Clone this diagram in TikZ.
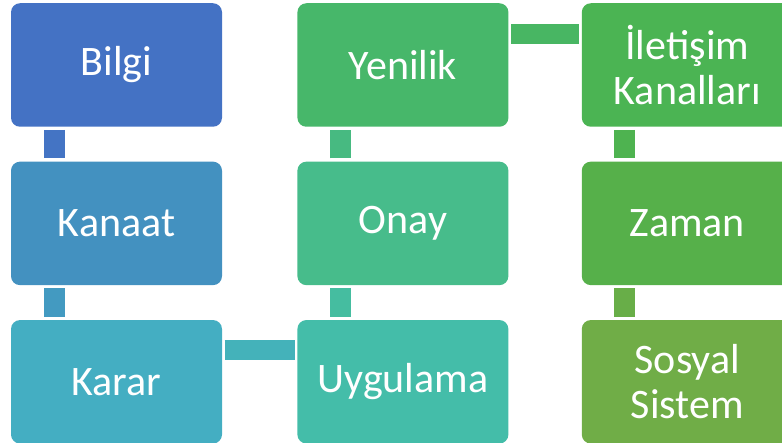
\documentclass[tikz,border=0pt]{standalone}
\usepackage{fontspec}
\setmainfont{Carlito}
\usetikzlibrary{positioning}
\definecolor{bilgiCol}{HTML}{4472C4}
\definecolor{kanaatCol}{HTML}{4391C0}
\definecolor{kararCol}{HTML}{44AEC2}
\definecolor{uygulamaCol}{HTML}{44BDA9}
\definecolor{onayCol}{HTML}{47BC8B}
\definecolor{yenilikCol}{HTML}{47B76A}
\definecolor{iletisimCol}{HTML}{4BB453}
\definecolor{zamanCol}{HTML}{56B04A}
\definecolor{sosyalCol}{HTML}{70AD47}

\begin{document}
\begin{tikzpicture}[x=1pt, y=1pt,
  kutu/.style={rounded corners=9pt, minimum width=211pt, minimum height=123.5pt,
    inner sep=0pt, align=center, text=white, font=\fontsize{42}{45}\selectfont},
  dikbag/.style={line width=21pt, shorten <=3pt, shorten >=3pt},
  yanbag/.style={line width=20pt, shorten <=2.5pt, shorten >=2.5pt}]
  \useasboundingbox (0,0) rectangle (782,-443);

  \node[kutu, fill=bilgiCol] (bilgi) at (116.5,-65) {Bilgi};
  \node[kutu, fill=kanaatCol, below=34.5pt of bilgi] (kanaat) {Kanaat};
  \node[kutu, fill=kararCol, below=34.5pt of kanaat] (karar) {Karar};
  \node[kutu, fill=uygulamaCol, right=75pt of karar] (uygulama) {Uygulama};
  \node[kutu, fill=onayCol, above=34.5pt of uygulama] (onay) {Onay};
  \node[kutu, fill=yenilikCol, above=34.5pt of onay] (yenilik) {Yenilik};
  \node[kutu, fill=iletisimCol, right=73pt of yenilik] (iletisim) {İletişim\\Kanalları};
  \node[kutu, fill=zamanCol, below=34.5pt of iletisim] (zaman) {Zaman};
  \node[kutu, fill=sosyalCol, below=34.5pt of zaman] (sosyal) {Sosyal\\Sistem};

  % baglantilar
  \draw[dikbag, color=bilgiCol!92!kanaatCol] ([xshift=43.5pt]bilgi.south west) -- ([xshift=43.5pt]kanaat.north west);
  \draw[dikbag, color=kanaatCol!70!kararCol] ([xshift=43.5pt]kanaat.south west) -- ([xshift=43.5pt]karar.north west);
  \draw[yanbag, color=kararCol!70!uygulamaCol] ([yshift=-30.5pt]karar.north east) -- ([yshift=-30.5pt]uygulama.north west);
  \draw[dikbag, color=uygulamaCol!70!onayCol] ([xshift=43.5pt]uygulama.north west) -- ([xshift=43.5pt]onay.south west);
  \draw[dikbag, color=onayCol!70!yenilikCol] ([xshift=43.5pt]onay.north west) -- ([xshift=43.5pt]yenilik.south west);
  \draw[yanbag, color=yenilikCol!70!iletisimCol] ([yshift=-30.5pt]yenilik.north east) -- ([yshift=-30.5pt]iletisim.north west);
  \draw[dikbag, color=iletisimCol!70!zamanCol] ([xshift=42.5pt]iletisim.south west) -- ([xshift=42.5pt]zaman.north west);
  \draw[dikbag, color=zamanCol!30!sosyalCol] ([xshift=42.5pt]zaman.south west) -- ([xshift=42.5pt]sosyal.north west);
\end{tikzpicture}
\end{document}
